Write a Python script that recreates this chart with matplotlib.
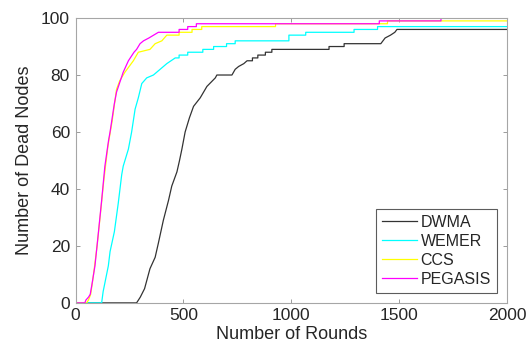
import matplotlib
matplotlib.use("Agg")
import matplotlib.pyplot as plt

plt.rcParams["font.family"] = ["Liberation Sans", "DejaVu Sans"]

# vertices (rounds, number of dead nodes)
dwma_r = [0, 283, 300, 320, 345, 369, 384, 407, 431, 446, 470, 482, 493, 508, 528,
          547, 578, 609, 648, 655, 725, 740, 756, 780, 795, 820, 820, 845, 845,
          880, 880, 910, 910, 1175, 1175, 1245, 1245, 1415, 1435, 1460, 1480,
          1490, 2000]
dwma_n = [0, 0, 2, 5, 12, 16, 21, 29, 36, 41, 46, 50, 54, 60, 65,
          69, 72, 76, 79, 80, 80, 82, 83, 84, 85, 85, 86, 86, 87,
          87, 88, 88, 89, 89, 90, 90, 91, 91, 93, 94, 95,
          96, 96]

wemer_r = [0, 121, 128, 152, 160, 180, 198, 214, 221, 245, 260, 276, 291, 307, 330,
           361, 392, 423, 462, 480, 480, 520, 520, 590, 590, 640, 640, 700, 700,
           740, 740, 989, 989, 1067, 1067, 1291, 1291, 1400, 1400, 2000]
wemer_n = [0, 0, 4, 13, 18, 25, 35, 45, 48, 54, 60, 68, 72, 77, 79,
           80, 82, 84, 86, 86, 87, 87, 88, 88, 89, 89, 90, 90, 91,
           91, 92, 92, 94, 94, 95, 95, 96, 96, 97, 97]

ccs_r = [0, 51, 60, 70, 78, 85, 100, 115, 131, 150, 170, 190, 205, 229, 268, 291,
         345, 369, 400, 423, 480, 480, 540, 540, 585, 585, 927, 927, 1446, 1446,
         2000]
ccs_n = [0, 0, 1, 3, 7, 11, 20, 31, 43, 55, 64, 75, 78, 81, 85, 88,
         89, 91, 92, 94, 94, 95, 95, 96, 96, 97, 97, 98, 98, 99,
         99]

pegasis_r = [0, 43, 48, 60, 68, 75, 90, 105, 121, 136, 153, 160, 180, 190, 221, 245,
             271, 283, 299, 315, 340, 384, 480, 480, 520, 520, 560, 560, 1408,
             1408, 1694, 1694, 2000]
pegasis_n = [0, 0, 1, 2, 3, 6, 13, 24, 36, 48, 57, 60, 70, 74, 81, 85,
             88, 89, 91, 92, 93, 95, 95, 96, 96, 97, 97, 98, 98,
             99, 99, 100, 100]

series = [
    ("DWMA", dwma_r, dwma_n, "#333333"),
    ("WEMER", wemer_r, wemer_n, "#00ffff"),
    ("CCS", ccs_r, ccs_n, "#ffff00"),
    ("PEGASIS", pegasis_r, pegasis_n, "#ff00ff"),
]

fig = plt.figure(figsize=(5.32, 3.61), dpi=100)
ax = fig.add_axes([0.142, 0.161, 0.811, 0.789])

for name, r, n, c in series:
    ax.plot(r, n, color=c, lw=0.9, label=name)

ax.set_xlim(0, 2000)
ax.set_ylim(0, 100)
ax.set_xticks([0, 500, 1000, 1500, 2000])
ax.set_yticks([0, 20, 40, 60, 80, 100])

for s in ax.spines.values():
    s.set_color("#a6a6a6")
    s.set_linewidth(0.8)
ax.tick_params(direction="in", top=True, right=True, length=3, width=0.6,
               color="#8c8c8c", labelsize=12.5, labelcolor="#262626", pad=4)

ax.set_xlabel("Number of Rounds", fontsize=13, color="#262626", labelpad=2)
ax.set_ylabel("Number of Dead Nodes", fontsize=13, color="#262626", labelpad=6)

leg = ax.legend(loc="lower right", fontsize=11.5, frameon=True, fancybox=False,
                handlelength=2.2, handletextpad=0.2, borderpad=0.4,
                labelspacing=0.25, borderaxespad=0.6)
leg.get_frame().set_edgecolor("#333333")
leg.get_frame().set_linewidth(0.8)
for t in leg.get_texts():
    t.set_color("#262626")

fig.savefig("out.png", dpi=100)
